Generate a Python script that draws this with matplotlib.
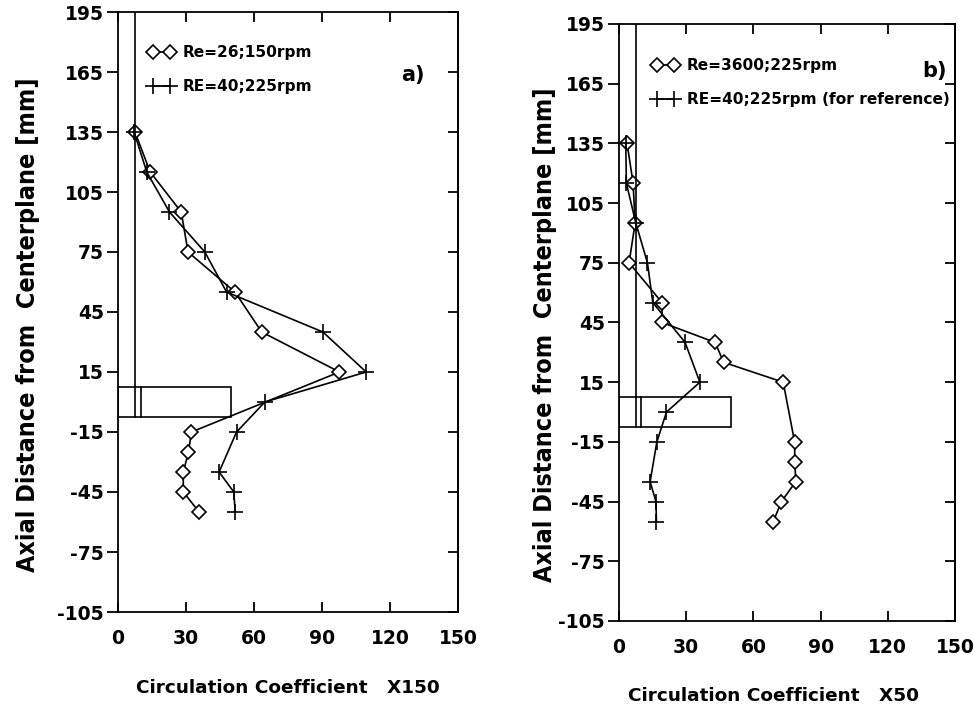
import matplotlib
matplotlib.use("Agg")
import matplotlib.pyplot as plt
from matplotlib.patches import Rectangle

plt.rcParams['font.family'] = ['DejaVu Sans']
plt.rcParams['axes.unicode_minus'] = False

# ---- data -------------------------------------------------------------
# axial positions [mm]
z_re26 = [135, 115, 95, 75, 55, 35, 15, -15, -25, -35, -45, -55]
z_re40 = [135, 115, 95, 75, 55, 35, 15, 0, -15, -35, -45, -55]
z_re3600 = [135, 115, 95, 75, 55, 45, 35, 25, 15, -15, -25, -35, -45, -55]

# circulation coefficient, panel a (x150)
circ_a_re26 = [7.5, 14.2, 27.9, 30.9, 51.6, 63.4, 97.7, 32.4, 31.1, 28.8, 28.8, 35.8]
circ_a_re40 = [7.1, 12.7, 22.7, 38.3, 47.9, 90.4, 109.5, 64.8, 52.3, 44.6, 51.1, 51.7]

# circulation coefficient, panel b (x50)
circ_b_re3600 = [3.6, 6.3, 7.2, 4.5, 19.2, 19.2, 42.9, 46.7, 73.3, 78.4, 78.5, 78.9, 72.5, 68.9]
circ_b_re40 = [3.0, 3.3, 7.5, 12.7, 15.1, 29.5, 36.1, 21.2, 16.9, 13.9, 16.5, 16.7]

x_ticks = [0, 30, 60, 90, 120, 150]
y_ticks = [195, 165, 135, 105, 75, 45, 15, -15, -45, -75, -105]

# impeller sketch: shaft and blade
shaft_x = 7.5
hub_x = 10.0
blade_len = 50.0
blade_half = 7.5

ylabel = "Axial Distance from  Centerplane [mm]"

# ---- figure -----------------------------------------------------------
fig = plt.figure(figsize=(9.74, 7.10), dpi=100)
W, H = 974.0, 710.0


def make_axes(l, t, r, b):
    return fig.add_axes([l / W, 1 - b / H, (r - l) / W, (b - t) / H])


ax_a = make_axes(118, 12, 458, 612)
ax_b = make_axes(619, 24, 955, 621)

tick_font = dict(family='DejaVu Sans', weight='bold', size=13.5)
line_kw = dict(color='black', lw=1.2)
dia_kw = dict(marker='D', ms=7.3, mfc='white', mec='black', mew=1.2)
plus_kw = dict(marker='+', ms=12, mec='black', mew=1.2)


def style_axes(ax, xlab, label_y, xlab_x):
    ax.set_xlim(0, 150)
    ax.set_ylim(-105, 195)
    ax.set_xticks(x_ticks)
    ax.set_yticks(y_ticks)
    ax.set_xticklabels([str(v) for v in x_ticks], fontdict=tick_font)
    ax.set_yticklabels([str(v) for v in y_ticks], fontdict=tick_font)
    for s in ax.spines.values():
        s.set_linewidth(1.3)
    ax.tick_params(axis='x', direction='in', top=True, bottom=True,
                   length=7, width=1.3, pad=12)
    ax.tick_params(axis='y', direction='out', left=True, right=False,
                   length=8, width=1.3, pad=2)
    sec = ax.secondary_yaxis('right')
    sec.set_yticks(y_ticks)
    sec.tick_params(direction='in', length=7, width=1.3, labelright=False)
    sec.spines['right'].set_linewidth(1.3)

    # impeller: shaft line, hub and blade outline
    ax.plot([shaft_x, shaft_x], [blade_half, 195], **line_kw)
    ax.plot([shaft_x, shaft_x], [-blade_half, blade_half], **line_kw)
    ax.plot([hub_x, hub_x], [-blade_half, blade_half], **line_kw)
    ax.add_patch(Rectangle((0, -blade_half), blade_len, 2 * blade_half,
                           fill=False, ec='black', lw=1.2))

    ax.set_ylabel(ylabel, family='DejaVu Sans', stretch='condensed',
                  weight='bold', size=18, va='center')
    ax.yaxis.set_label_coords(-0.265, 0.478)
    ax.set_xlabel(xlab, family='DejaVu Sans', weight='bold', size=13.3,
                  va='center')
    ax.xaxis.set_label_coords(xlab_x, label_y)


legend_kw = dict(loc='upper left', frameon=False, numpoints=2,
                 handlelength=1.7, handletextpad=0.5, labelspacing=1.25,
                 borderpad=0, borderaxespad=0,
                 prop=dict(family='DejaVu Sans', weight='bold', size=11.1))

# panel a
la1, = ax_a.plot(circ_a_re26, z_re26, label='Re=26;150rpm', **line_kw, **dia_kw)
la2, = ax_a.plot(circ_a_re40, z_re40, label='RE=40;225rpm', **line_kw, **plus_kw)
style_axes(ax_a, "Circulation Coefficient   X150", -0.127, 0.4985)
ax_a.legend(handles=[la1, la2], bbox_to_anchor=(0.09, 0.945), **legend_kw)
ax_a.text(0.866, 0.895, "a)", transform=ax_a.transAxes, ha='center',
          va='center', fontsize=15, weight='bold')

# panel b
lb1, = ax_b.plot(circ_b_re3600, z_re3600, label='Re=3600;225rpm', **line_kw, **dia_kw)
lb2, = ax_b.plot(circ_b_re40, z_re40, label='RE=40;225rpm (for reference)',
                 **line_kw, **plus_kw)
style_axes(ax_b, "Circulation Coefficient   X50", -0.125, 0.46)
ax_b.yaxis.set_label_coords(-0.22, 0.479)
ax_b.legend(handles=[lb1, lb2], bbox_to_anchor=(0.10, 0.943), **legend_kw)
ax_b.text(0.94, 0.922, "b)", transform=ax_b.transAxes, ha='center',
          va='center', fontsize=15, weight='bold')

fig.savefig("out.png", dpi=100)
